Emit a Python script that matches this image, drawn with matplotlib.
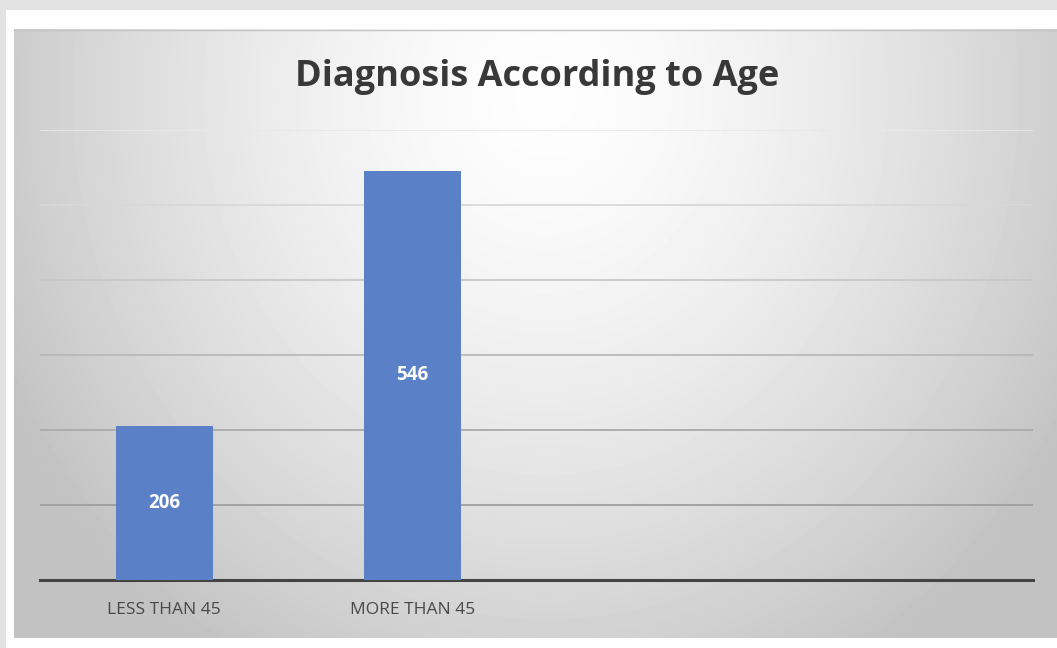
import numpy as np
import matplotlib.pyplot as plt
from matplotlib.patches import Rectangle
from matplotlib.ticker import MultipleLocator

# chart data
categories = ["LESS THAN 45", "MORE THAN 45"]
counts = [206, 546]
n_slots = 4          # category slots on the x axis (two are left empty)
y_max = 600

W, H = 1057, 648
fig = plt.figure(figsize=(W / 100, H / 100), dpi=100, facecolor="#e3e3e3")

def px(x0, y0, x1, y1):
    # figure fraction box from pixel corners (top-left origin)
    return [x0 / W, 1 - y1 / H, (x1 - x0) / W, (y1 - y0) / H]

# white page and the shaded chart panel
fig.patches.append(Rectangle((6 / W, 0), 1, 1 - 10 / H, transform=fig.transFigure,
                             facecolor="white", edgecolor="none", zorder=-3))
bg = fig.add_axes(px(14, 29, W, 638), zorder=-2)
gx, gy = np.meshgrid(np.arange(14, W), np.arange(29, 638))
r = np.sqrt(((gx - 545) / 560.0) ** 2 + ((gy - 95) / 620.0) ** 2)
shade = 0.995 - 0.21 * np.clip(r, 0, 1.08) ** 1.5
bg.imshow(shade, cmap="gray", vmin=0, vmax=1, aspect="auto", interpolation="bilinear")
bg.set_axis_off()
fig.add_artist(plt.Line2D([14 / W, 1], [1 - 29.5 / H] * 2, transform=fig.transFigure,
                          color="#c4c4c4", lw=1))

ax = fig.add_axes(px(40, 130, 1033, 580))
ax.patch.set_alpha(0)
x = np.arange(len(categories))
bars = ax.bar(x, counts, width=0.39, color="#5a80c8", zorder=3)
ax.set_xlim(-0.5, n_slots - 0.5)
ax.set_ylim(0, y_max)

for b, v in zip(bars, counts):
    ax.text(b.get_x() + b.get_width() / 2, v / 2, str(v), ha="center", va="center",
            color="white", fontsize=13.5, fontweight="bold", family="Open Sans", zorder=4)

# gridlines fade from dark near the baseline to light at the top
ax.yaxis.set_major_locator(MultipleLocator(100))
ax.set_yticklabels([])
ax.tick_params(axis="y", length=0)
ax.grid(axis="y", lw=1.3, zorder=1)
for val, line in zip(ax.get_yticks(), ax.get_ygridlines()):
    g = 0.58 + 0.33 * (val / y_max) ** 1.2
    line.set_color((g, g, g))
    if val == 0:
        line.set_visible(False)

ax.set_xticks(x)
ax.set_xticklabels(categories, fontsize=12.5, color="#484848", family="Open Sans")
ax.tick_params(axis="x", length=0, pad=16)
for s in ["top", "right", "left"]:
    ax.spines[s].set_visible(False)
ax.spines["bottom"].set_color("#444444")
ax.spines["bottom"].set_linewidth(2.2)

fig.text(537 / W, 1 - 77 / H, "Diagnosis According to Age", ha="center", va="center",
         fontsize=26, fontweight="bold", color="#383838", family="Open Sans")

fig.savefig("out.png", dpi=100, facecolor=fig.get_facecolor())
